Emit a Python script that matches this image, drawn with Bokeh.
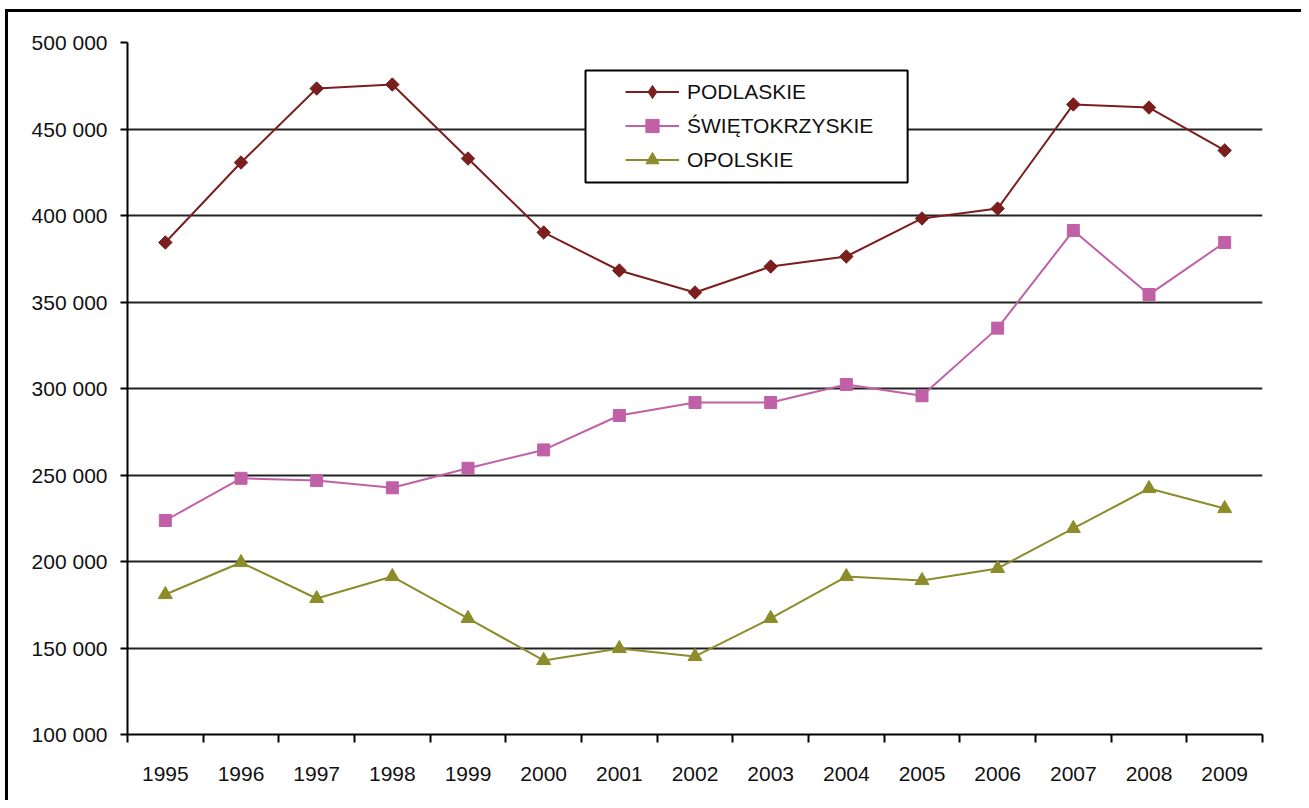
import numpy as np
from bokeh.plotting import figure
from bokeh.models import Range1d, FixedTicker, Legend, LegendItem, BoxAnnotation
from bokeh.embed import file_html
from bokeh.resources import INLINE

years = ["1995", "1996", "1997", "1998", "1999", "2000", "2001", "2002",
         "2003", "2004", "2005", "2006", "2007", "2008", "2009"]
podlaskie = [384400, 430600, 473400, 475700, 432900, 390200, 368200, 355500,
             370500, 376300, 398300, 404000, 464200, 462400, 437600]
swietokrzyskie = [223700, 248100, 246800, 242600, 253900, 264500, 284400, 291900,
                  291900, 302300, 295800, 334900, 391300, 354300, 384400]
opolskie = [180900, 199400, 178600, 191300, 167100, 142800, 149700, 145100,
            167100, 191300, 189000, 196000, 219100, 242200, 230600]
y_ticks = [100000, 150000, 200000, 250000, 300000, 350000, 400000, 450000, 500000]
y_tick_labels = ["100 000", "150 000", "200 000", "250 000", "300 000",
                 "350 000", "400 000", "450 000", "500 000"]
series_names = ["PODLASKIE", "ŚWIĘTOKRZYSKIE", "OPOLSKIE"]
colors = ["#7A1E1E", "#C060A6", "#8C8C2A"]

FONT = "Liberation Sans"
FSIZE = "21px"

x = [int(y) for y in years]
p = figure(frame_width=1135, frame_height=692,
           min_border_left=119, min_border_right=39,
           min_border_top=30, min_border_bottom=66,
           x_range=Range1d(x[0] - 0.5, x[-1] + 0.5),
           y_range=Range1d(y_ticks[0], y_ticks[-1]),
           output_backend="svg", toolbar_location=None,
           background_fill_color="white", border_fill_color="white")
p.styles = {"margin-left": "5px", "margin-top": "9px",
            "border-top": "3px solid black", "border-left": "3px solid black"}
p.outline_line_color = None

# x axis: labels at category centres, ticks between categories
xa = p.xaxis[0]
xa.ticker = FixedTicker(ticks=x, minor_ticks=[v - 0.5 for v in x] + [x[-1] + 0.5])
xa.major_label_overrides = {v: s for v, s in zip(x, years)}
xa.major_tick_line_color = None
xa.major_tick_out = 0
xa.major_tick_in = 0
xa.minor_tick_out = 8
xa.minor_tick_in = 0
xa.minor_tick_line_color = "black"
xa.minor_tick_line_width = 2
xa.axis_line_color = "black"
xa.axis_line_width = 2
xa.major_label_text_font = FONT
xa.major_label_text_font_size = FSIZE
xa.major_label_text_color = "#111111"
xa.major_label_standoff = 24

# y axis
ya = p.yaxis[0]
ya.ticker = FixedTicker(ticks=y_ticks, minor_ticks=[])
ya.major_label_overrides = {v: s for v, s in zip(y_ticks, y_tick_labels)}
ya.major_tick_out = 7
ya.major_tick_in = 0
ya.major_tick_line_width = 2
ya.major_tick_line_color = "black"
ya.minor_tick_line_color = None
ya.axis_line_color = "black"
ya.axis_line_width = 2
ya.major_label_text_font = FONT
ya.major_label_text_font_size = FSIZE
ya.major_label_text_color = "#111111"
ya.major_label_standoff = 13

p.xgrid.grid_line_color = None
p.ygrid.ticker = FixedTicker(ticks=y_ticks[1:])
p.ygrid.grid_line_color = "#222222"
p.ygrid.grid_line_width = 2

# legend frame
box = BoxAnnotation(left=x[0] - 0.5 + 6.053, right=x[0] - 0.5 + 10.31,
                    top=483800, bottom=419100,
                    fill_color="white", fill_alpha=1.0,
                    line_color="black", line_alpha=1.0, line_width=2,
                    level="annotation")
p.add_layout(box)

items = []
markers = [("square", np.pi / 4, 9.5, "diamond"), ("square", 0, 12, "square"),
           ("triangle", 0, 14, "triangle")]
for name, vals, col, (mk, ang, sz, lmk) in zip(series_names,
                                               [podlaskie, swietokrzyskie, opolskie],
                                               colors, markers):
    l = p.line(x, vals, line_color=col, line_width=2)
    p.scatter(x, vals, marker=mk, angle=ang, size=sz,
              fill_color=col, line_color=col)
    # hidden renderer used only for the legend swatch
    key = p.scatter(x, vals, marker=lmk, size=sz, fill_color=col, line_color=col)
    key.visible = False
    items.append(LegendItem(label=name, renderers=[l, key]))

legend = Legend(items=items, location=(498, 558), orientation="vertical",
                padding=0, margin=0, spacing=1,
                label_height=33, glyph_height=33, glyph_width=54,
                label_standoff=8,
                label_text_font=FONT, label_text_font_size=FSIZE,
                label_text_color="#111111",
                background_fill_alpha=0, border_line_color=None)
p.add_layout(legend, "center")

open("out.html", "w").write(file_html(p, INLINE))
